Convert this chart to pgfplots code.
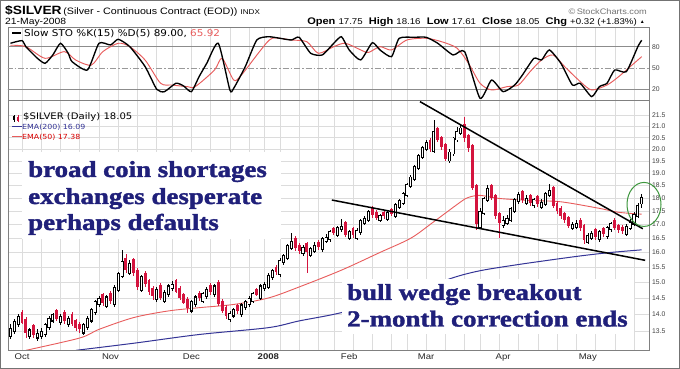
\documentclass[border=0pt]{standalone}
\usepackage{pgfplots}
\pgfplotsset{compat=1.18}
\usepackage{pgfplotstable}
\usepackage{fontspec}
\setmainfont{Liberation Sans}[FakeStretch=1.15]
\newfontfamily\plainsans{Liberation Sans}
\newfontfamily\verd{DejaVu Sans}[FakeStretch=1.12]
\newfontfamily\tnrb{Liberation Serif Bold}[FakeStretch=1.17, FakeBold=1.6]
\definecolor{candred}{RGB}{212,20,62}
\definecolor{emared}{RGB}{232,92,92}
\definecolor{emablue}{RGB}{52,52,150}
\definecolor{navy}{RGB}{32,32,122}
\definecolor{gridc}{RGB}{220,220,220}
\definecolor{ringg}{RGB}{60,150,60}

\pgfplotstableread{
i o h l c
0 13.33 13.70 13.28 13.60
1 13.48 13.85 13.43 13.80
2 13.68 14.00 13.63 13.95
3 14.07 14.12 13.70 13.75
4 13.87 13.92 13.30 13.45
5 13.33 13.60 13.28 13.55
6 13.67 13.72 13.30 13.40
7 13.28 13.55 13.22 13.45
8 13.33 13.60 13.28 13.50
9 13.38 13.75 13.33 13.70
10 13.58 13.95 13.53 13.90
11 13.78 14.05 13.73 14.00
12 14.12 14.17 13.80 13.85
13 13.73 14.00 13.68 13.95
14 14.07 14.12 13.70 13.80
15 13.68 13.95 13.63 13.90
16 14.02 14.07 13.65 13.70
17 13.82 13.87 13.50 13.60
18 13.72 13.77 13.45 13.55
19 13.43 13.75 13.38 13.70
20 13.58 13.95 13.53 13.90
21 13.78 14.20 13.73 14.15
22 14.03 14.45 13.98 14.40
23 14.28 14.55 14.23 14.50
24 14.62 14.67 14.25 14.35
25 14.23 14.60 14.18 14.55
26 14.67 14.72 14.30 14.40
27 14.28 14.90 14.23 14.85
28 14.73 15.35 14.68 15.30
29 15.18 16.10 15.13 15.70
30 15.82 15.95 15.30 15.40
31 15.28 15.75 15.23 15.65
32 15.77 15.82 15.20 15.30
33 15.42 15.47 14.75 14.85
34 14.73 15.25 14.68 15.20
35 15.32 15.37 14.85 14.95
36 15.07 15.12 14.60 14.70
37 14.82 14.87 14.45 14.55
38 14.43 14.85 14.38 14.80
39 14.92 14.97 14.45 14.50
40 14.38 14.75 14.33 14.70
41 14.58 14.95 14.53 14.90
42 14.78 15.05 14.73 14.95
43 15.07 15.12 14.65 14.70
44 14.82 14.87 14.45 14.50
45 14.62 14.67 14.30 14.35
46 14.47 14.52 14.05 14.20
47 14.08 14.45 14.03 14.40
48 14.28 14.60 14.23 14.55
49 14.67 14.72 14.40 14.50
50 14.38 14.70 14.33 14.65
51 14.53 14.85 14.48 14.80
52 14.92 14.97 14.60 14.70
53 14.58 14.95 14.53 14.90
54 15.02 15.07 14.25 14.30
55 14.42 14.47 14.05 14.10
56 14.22 14.27 13.85 13.95
57 13.83 14.10 13.78 14.05
58 13.93 14.20 13.88 14.15
59 14.27 14.32 14.00 14.10
60 13.98 14.35 13.93 14.30
61 14.18 14.45 14.13 14.40
62 14.28 14.55 14.23 14.50
63 14.38 14.70 14.33 14.65
64 14.77 14.82 14.55 14.60
65 14.48 14.95 14.43 14.90
66 14.78 15.00 14.73 14.95
67 14.83 15.30 14.78 15.25
68 15.13 15.45 15.08 15.40
69 15.52 15.57 15.25 15.35
70 15.23 15.80 15.18 15.75
71 15.63 15.95 15.58 15.90
72 15.78 16.30 15.73 16.25
73 16.13 16.70 16.08 16.40
74 16.52 16.57 16.05 16.15
75 16.27 16.32 15.95 16.05
76 15.93 16.25 15.88 16.20
77 16.32 16.37 15.30 16.00
78 15.88 16.20 15.83 16.15
79 16.03 16.35 15.98 16.25
80 16.37 16.42 16.10 16.20
81 16.08 16.55 16.03 16.50
82 16.38 16.65 16.33 16.55
83 16.43 16.80 16.38 16.75
84 16.87 16.92 16.60 16.70
85 16.58 16.95 16.53 16.90
86 16.78 17.20 16.73 16.95
87 17.07 17.12 16.55 16.60
88 16.48 16.80 16.43 16.75
89 16.87 16.92 16.50 16.60
90 16.48 16.85 16.43 16.80
91 16.68 17.20 16.63 17.15
92 17.03 17.30 16.98 17.25
93 17.13 17.55 17.08 17.50
94 17.62 17.67 17.25 17.35
95 17.47 17.52 17.15 17.25
96 17.13 17.40 17.08 17.35
97 17.47 17.52 17.20 17.30
98 17.18 17.50 17.13 17.45
99 17.57 17.62 17.30 17.40
100 17.28 17.80 17.23 17.75
101 17.63 17.95 17.58 17.90
102 17.78 18.25 17.73 18.20
103 18.08 18.60 18.03 18.55
104 18.43 18.90 18.38 18.85
105 18.73 19.35 18.68 19.30
106 19.18 19.80 19.13 19.75
107 19.63 20.15 19.58 20.10
108 19.98 20.40 19.93 20.30
109 20.42 20.47 19.90 20.00
110 19.88 21.30 19.83 20.80
111 20.92 20.97 20.30 20.40
112 20.52 20.57 19.95 20.10
113 20.22 20.27 19.50 19.60
114 19.48 20.00 19.43 19.90
115 19.78 20.55 19.73 20.50
116 20.38 21.00 20.33 20.80
117 20.68 21.10 20.60 20.95
118 21.10 21.45 20.30 20.50
119 20.62 20.67 19.90 20.05
120 20.17 20.22 18.30 18.40
121 18.52 18.57 16.80 17.00
122 16.88 17.60 16.83 17.50
123 17.38 18.05 17.33 18.00
124 17.88 18.50 17.83 18.40
125 18.52 18.57 17.90 18.00
126 18.12 18.17 17.20 17.30
127 17.42 17.47 16.50 17.05
128 16.93 17.30 16.88 17.15
129 17.03 17.35 16.98 17.25
130 17.13 17.65 17.08 17.60
131 17.48 18.00 17.43 17.95
132 17.83 18.25 17.78 18.15
133 18.27 18.32 17.80 17.90
134 17.78 18.10 17.73 18.00
135 18.12 18.17 17.70 17.80
136 17.68 18.00 17.63 17.95
137 18.07 18.12 17.65 17.75
138 17.63 17.95 17.58 17.85
139 17.73 18.25 17.68 18.20
140 18.08 18.55 18.03 18.30
141 18.42 18.47 17.60 17.70
142 17.82 17.87 17.40 17.50
143 17.62 17.67 17.20 17.30
144 17.42 17.47 17.05 17.15
145 17.27 17.32 16.85 16.95
146 16.83 17.10 16.78 17.00
147 16.88 17.15 16.83 17.05
148 17.17 17.22 16.75 16.85
149 16.97 17.02 16.30 16.45
150 16.33 16.70 16.28 16.60
151 16.48 16.75 16.43 16.70
152 16.82 16.87 16.45 16.55
153 16.43 16.80 16.38 16.75
154 16.87 16.92 16.55 16.65
155 16.53 16.95 16.48 16.90
156 16.78 17.10 16.73 17.05
157 17.17 17.22 16.80 16.85
158 16.97 17.02 16.70 16.80
159 16.92 16.97 16.65 16.75
160 16.63 17.00 16.58 16.95
161 16.83 17.20 16.78 17.10
162 16.98 17.45 16.93 17.40
163 17.28 17.80 17.23 17.73
164 17.75 18.16 17.61 18.05
}\ohlc

\begin{document}
\begin{tikzpicture}[x=1pt,y=1pt]
\path[use as bounding box] (0,0) rectangle (680,369);
\fill[white] (0,0) rectangle (680,369);

% ---------------- stochastic panel ----------------
\begin{axis}[name=sto, at={(8pt,269pt)}, anchor=south west, scale only axis,
  width=641pt, height=73pt,
  xmin=-0.64, xmax=165.9, ymin=4.9, ymax=107.7,
  xtick={3,8,13,18,23,28,33,38,42,47,52,57,62,66,70,75,80,84,89,94,99,103,108,113,118,122,127,132,137,142,147,152,157,162},
  xticklabels={}, xmajorgrids, grid style={gridc, line width=0.5pt},
  ytick={20,50,80}, yticklabels={20,50,80}, yticklabel pos=right,
  yticklabel style={font=\plainsans\fontsize{6.8}{7}\selectfont, text=black!75, anchor=west, inner sep=0pt, xshift=3pt},
  tick style={draw=none}, axis line style={black!50},
]
\draw[black!45, line width=0.7pt] (axis cs:-1,80) -- (axis cs:167,80);
\draw[black!45, line width=0.7pt] (axis cs:-1,20) -- (axis cs:167,20);
\draw[black!40, line width=0.6pt, dash pattern=on 6pt off 2pt on 1.5pt off 2pt] (axis cs:-1,50) -- (axis cs:167,50);
\addplot[emared, line width=0.95pt, smooth, tension=0.45, mark=none] coordinates {
(0,82)(4,80)(9,63.6)(14,73)(17,61)(21,54)(24,73)(28,84.8)(31,80)(35,61)(39,28.5)(42,26)(46,23.7)(48,23.7)(53,47)(55,63.6)(58,33)(60,40)(65,75)(68,91.8)(73,89.4)(77,87)(80,70.7)(84,80)(87,84.8)(91,75.4)(93,71.8)(96,80)(99,75.4)(103,89.4)(108,91.8)(112,87)(116,78)(119,56.6)(122,28.5)(125,19)(129,23.7)(132,26)(135,44.8)(138,61.3)(141,68.3)(144,51.8)(148,31)(151,19)(155,26)(158,37.7)(161,51.8)(164,65.92)};
\addplot[black, line width=1.35pt, smooth, tension=0.35, mark=none] coordinates {
(0,84.8)(3,88.5)(4,80)(7,63.6)(9,56.6)(11,68.3)(13,84.8)(15,70.7)(16,58.9)(20,47.2)(23,84.8)(26,82.4)(28,90.4)(31,80)(35,51.8)(38,20)(40,16.6)(43,28.5)(45,24.6)(47,16.6)(49,37.7)(51,56.6)(54,84.8)(57,19)(58,21.4)(61,51.8)(64,89.4)(67,94)(70,91.8)(73,89.4)(75,93.2)(78,70.7)(81,68.3)(84,84.8)(86,94)(88,75.4)(91,61.3)(94,85.6)(96,75.4)(99,65.9)(101,91.8)(105,93.2)(108,93.2)(111,84.8)(115,68.3)(118,73)(122,7.3)(125,33)(128,16.6)(131,26)(133,40)(136,63.6)(138,61.3)(140,75.4)(143,56.6)(146,26)(148,28.5)(151,9.6)(153,23.7)(155,28.5)(157,47.2)(160,44.8)(163,80)(164,89.0)};
\end{axis}

% ---------------- price panel ----------------
\begin{axis}[name=price, at={(8pt,19pt)}, anchor=south west, scale only axis,
  width=641pt, height=250pt,
  xmin=-0.64, xmax=165.9, ymode=log, ymin=12.96, ymax=22.24,
  xtick={3,8,13,18,23,28,33,38,42,47,52,57,62,66,70,75,80,84,89,94,99,103,108,113,118,122,127,132,137,142,147,152,157,162},
  xticklabels={},
  extra x ticks={3,26,47,67,88,108,128,150},
  extra x tick labels={Oct,Nov,Dec,\textbf{2008},Feb,Mar,Apr,May},
  extra x tick style={grid=none},
  xticklabel style={font=\fontsize{8.3}{9}\selectfont, text=black!85},
  ytick={13.5,14,14.5,15,15.5,16,16.5,17,17.5,18,18.5,19,19.5,20,20.5,21,21.5},
  yticklabels={13.5,14.0,14.5,15.0,15.5,16.0,16.5,17.0,17.5,18.0,18.5,19.0,19.5,20.0,20.5,21.0,21.5},
  yticklabel pos=right,
  yticklabel style={font=\plainsans\fontsize{6.8}{7}\selectfont, text=black!75, anchor=west, inner sep=0pt, xshift=3pt},
  xmajorgrids, ymajorgrids, grid style={gridc, line width=0.5pt},
  tick style={draw=none}, axis line style={black!50},
]
% EMAs
\addplot[emared, line width=0.9pt, smooth, mark=none] coordinates {
(4,12.95)(18,13.3)(23,13.55)(32,13.9)(41,14.1)(49,14.2)(58,14.3)(67,14.5)(75,14.85)(86,15.4)(96,16.0)(104,16.5)(110,17.1)(117,17.85)(119,18.02)(122,18.1)(127,17.98)(135,17.9)(143,17.85)(153,17.6)(158,17.45)(164,17.38)};
\addplot[emablue, line width=1pt, smooth, mark=none] coordinates {
(17,12.95)(32,13.15)(49,13.4)(67,13.6)(75,13.8)(86,14.05)(101,14.55)(115,15.15)(122,15.38)(130,15.55)(138,15.7)(148,15.88)(156,16.0)(164,16.09)};
% wicks
\addplot[draw=none, no markers, forget plot,
  restrict expr to domain={\thisrow{c}-\thisrow{o}}{0:100},
  error bars/.cd, y dir=both, y explicit, error mark=none,
  error bar style={draw=black, line width=0.6pt}]
  table[x=i, y=c, y error plus expr=\thisrow{h}-\thisrow{c}, y error minus expr=\thisrow{c}-\thisrow{l}] {\ohlc};
\addplot[draw=none, no markers, forget plot,
  restrict expr to domain={\thisrow{o}-\thisrow{c}}{0.001:100},
  error bars/.cd, y dir=both, y explicit, error mark=none,
  error bar style={draw=candred, line width=0.6pt}]
  table[x=i, y=c, y error plus expr=\thisrow{h}-\thisrow{c}, y error minus expr=\thisrow{c}-\thisrow{l}] {\ohlc};
% down bodies (filled red)
\addplot[draw=none, no markers, forget plot,
  restrict expr to domain={\thisrow{o}-\thisrow{c}}{0.001:100},
  error bars/.cd, y dir=minus, y explicit, error mark=none,
  error bar style={draw=candred, line width=2.9pt}]
  table[x=i, y=o, y error minus expr=\thisrow{o}-\thisrow{c}] {\ohlc};
% up bodies (hollow)
\addplot[draw=none, no markers, forget plot,
  restrict expr to domain={\thisrow{c}-\thisrow{o}}{0:100},
  error bars/.cd, y dir=minus, y explicit, error mark=none,
  error bar style={draw=black, line width=3.1pt}]
  table[x=i, y=c, y error minus expr=\thisrow{c}-\thisrow{o}] {\ohlc};
\addplot[draw=none, no markers, forget plot,
  restrict expr to domain={\thisrow{c}-\thisrow{o}}{0:100},
  error bars/.cd, y dir=minus, y explicit, error mark=none,
  error bar style={draw=white, line width=1.3pt}]
  table[x=i, y expr=\thisrow{c}-0.035, y error minus expr={max(\thisrow{c}-\thisrow{o}-0.07,0)}] {\ohlc};
% wedge lines
\addplot[black, line width=1.5pt, mark=none] coordinates {(106.4,22.16)(164.3,16.84)};
\addplot[black, line width=1.5pt, mark=none] coordinates {(83.5,17.92)(164.9,15.73)};
\coordinate (ring) at (axis cs:164.6,17.75);
\end{axis}

\draw[ringg, line width=1pt] (ring) ellipse [x radius=17pt, y radius=22pt];

% white annotation boxes
\fill[white] (22,130) rectangle (281,217);
\fill[white] (342,35) rectangle (634,90);
\begin{scope}[every node/.style={anchor=base west, inner sep=0pt, text=navy, font=\tnrb\fontsize{23}{26}\selectfont}]
\node at (28,192) {broad coin shortages};
\node at (28,165) {exchanges desperate};
\node at (28,139) {perhaps defaults};
\node at (347,69) {bull wedge breakout};
\node at (347,42.5) {2-month correction ends};
\end{scope}

% header
\node[anchor=base west, inner sep=0pt] at (5,354) {{\bfseries\fontsize{12}{13}\selectfont \$SILVER}\,{\fontsize{9.3}{10}\selectfont (Silver - Continuous Contract (EOD))}\ {\fontsize{7}{8}\selectfont INDX}};
\node[anchor=base west, inner sep=0pt] at (5,344) {\fontsize{9}{10}\selectfont 21-May-2008};
\node[anchor=base east, inner sep=0pt, text=black!55] at (647,354.5) {\fontsize{8}{9}\selectfont \textcopyright\,StockCharts.com};
\node[anchor=base east, inner sep=0pt] at (645,344) {\fontsize{9.6}{10}\selectfont\textbf{Open} {\fontsize{8.4}{10}\selectfont 17.75}\ \ \textbf{High} {\fontsize{8.4}{10}\selectfont 18.16}\ \ \textbf{Low} {\fontsize{8.4}{10}\selectfont 17.61}\ \ \textbf{Close} {\fontsize{8.4}{10}\selectfont 18.05}\ \ \textbf{Chg} {\fontsize{8.4}{10}\selectfont +0.32 (+1.83\%)} {\plainsans\fontsize{5}{6}\selectfont\raisebox{1pt}{▲}}};

% stochastic legend
\draw[black, line width=1.3pt] (12,336) -- (21,336);
\node[anchor=base west, inner sep=0pt] at (24,332.5) {\verd\fontsize{9.3}{10}\selectfont Slow STO \%K(15) \%D(5) 89.00, \textcolor{emared}{65.92}};

% price legend
\draw[black, line width=0.6pt] (14,247) -- (14,254); \fill[black] (13,249) rectangle (15,252.5);
\draw[candred, line width=0.6pt] (18,246.5) -- (18,253.5); \fill[candred] (17,248) rectangle (19,251.5);
\node[anchor=base west, inner sep=0pt] at (23,249) {\verd\fontsize{9}{10}\selectfont \$SILVER (Daily) 18.05};
\draw[emablue, line width=1pt] (12,242.5) -- (22,242.5);
\node[anchor=base west, inner sep=0pt, text=emablue] at (22,239.5) {\verd\fontsize{7}{8}\selectfont EMA(200) 16.09};
\draw[emared, line width=1pt] (12,232.5) -- (22,232.5);
\node[anchor=base west, inner sep=0pt, text=red!85!black] at (22,229.5) {\verd\fontsize{7}{8}\selectfont EMA(50) 17.38};

\draw[black!55, line width=0.8pt] (0.4,0.4) rectangle (679.6,368.6);
\end{tikzpicture}
\end{document}
